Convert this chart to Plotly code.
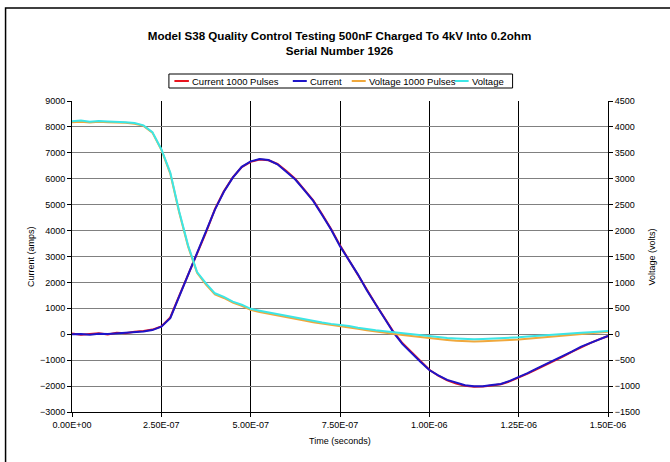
import plotly.graph_objects as go

# ---- data ----
time_s = [k * 2.5e-8 for k in range(61)]

current = [0, 10, -20, 20, 10, 30, 50, 80, 110, 160,
           290, 620, 1450, 2280, 3080, 3910, 4810, 5500, 6040, 6460,
           6670, 6760, 6720, 6560, 6280, 5970, 5560, 5145, 4600, 4040,
           3400, 2850, 2310, 1700, 1140, 600, 60, -380, -730, -1060,
           -1380, -1590, -1760, -1880, -1970, -2010, -2010, -1960, -1920, -1800,
           -1660, -1500, -1330, -1170, -1000, -830, -660, -480, -330, -190,
           -60]

current_1000 = [30, -20, 10, 40, -10, 60, 40, 100, 130, 180,
                300, 650, 1480, 2300, 3100, 3930, 4830, 5520, 6050, 6450,
                6650, 6740, 6710, 6570, 6300, 5990, 5580, 5170, 4630, 4060,
                3430, 2880, 2330, 1730, 1160, 620, 90, -350, -700, -1040,
                -1370, -1600, -1780, -1900, -1990, -2030, -2020, -1980, -1930, -1820,
                -1680, -1520, -1350, -1190, -1020, -850, -670, -500, -340, -200,
                -70]

voltage = [4110, 4125, 4100, 4115, 4105, 4100, 4090, 4075, 4030, 3900,
           3570, 3120, 2370, 1710, 1200, 980, 790, 720, 630, 570,
           490, 455, 420, 390, 350, 315, 285, 250, 225, 200,
           180, 160, 125, 96, 75, 60, 40, 20, 5, -15,
           -40, -55, -70, -80, -90, -95, -90, -85, -75, -70,
           -60, -45, -30, -20, -5, 5, 20, 30, 40, 50,
           65]

voltage_1000 = [4090, 4100, 4085, 4100, 4090, 4085, 4080, 4060, 4020, 3890,
                3560, 3100, 2350, 1690, 1185, 960, 770, 700, 610, 550,
                470, 430, 400, 365, 330, 295, 265, 230, 205, 180,
                160, 140, 105, 75, 50, 30, 10, -15, -35, -55,
                -80, -95, -110, -125, -135, -140, -135, -130, -120, -110,
                -100, -85, -70, -55, -40, -25, -10, 5, 20, 35,
                50]

series_names = ["Current 1000 Pulses", "Current", "Voltage 1000 Pulses", "Voltage"]
series_colors = ["#E8141E", "#1E14C8", "#F0A83C", "#3CE6E6"]

x_tickvals = [0, 2.5e-7, 5.0e-7, 7.5e-7, 1.0e-6, 1.25e-6, 1.5e-6]
x_ticktext = ["0.00E+00", "2.50E-07", "5.00E-07", "7.50E-07",
              "1.00E-06", "1.25E-06", "1.50E-06"]

FONT = "Arial, Liberation Sans, sans-serif"

# plot-area geometry in pixels
L, R, T, B = 71.5, 608.0, 101.0, 412.0
W, H = 670, 462


def px(xp):
    return (xp - L) / (R - L)


def py(yp):
    return (B - yp) / (B - T)


fig = go.Figure()
series = [current_1000, current, voltage_1000, voltage]
axes = ["y", "y", "y2", "y2"]
for name, color, vals, ax in zip(series_names, series_colors, series, axes):
    fig.add_trace(go.Scatter(x=time_s, y=vals, name=name, mode="lines",
                             line=dict(color=color, width=2), yaxis=ax,
                             showlegend=False))

# custom compact legend (Excel style)
shapes = []
annotations = []
leg_box = (168.5, 74.0, 512.5, 88.0)
shapes.append(dict(type="rect", xref="paper", yref="paper",
                   x0=px(leg_box[0]), x1=px(leg_box[2]),
                   y0=py(leg_box[3]), y1=py(leg_box[1]),
                   line=dict(color="black", width=1), fillcolor="white", layer="above"))
leg_items = [(174, 188.5), (292.5, 306.5), (351.5, 365.5), (454.5, 468.5)]
leg_y = 81.0
for (x0, x1), name, color in zip(leg_items, series_names, series_colors):
    shapes.append(dict(type="line", xref="paper", yref="paper",
                       x0=px(x0), x1=px(x1), y0=py(leg_y), y1=py(leg_y),
                       line=dict(color=color, width=2), layer="above"))
    annotations.append(dict(text=name, xref="paper", yref="paper",
                            x=px(x1 + 1.5), y=py(leg_y), xanchor="left", yanchor="middle",
                            showarrow=False, font=dict(family=FONT, size=9.5, color="black")))

# outer chart frame
shapes.append(dict(type="rect", xref="paper", yref="paper",
                   x0=px(5), x1=px(700), y0=py(480), y1=py(8),
                   line=dict(color="black", width=1.5), fillcolor="rgba(0,0,0,0)", layer="above"))

# axis titles
annotations += [
    dict(text="Current (amps)", xref="paper", yref="paper", x=px(30), y=py(256.5),
         xanchor="center", yanchor="middle",
         textangle=-90, showarrow=False, font=dict(family=FONT, size=9)),
    dict(text="Voltage (volts)", xref="paper", yref="paper", x=px(652), y=py(256.5),
         xanchor="center", yanchor="middle",
         textangle=-90, showarrow=False, font=dict(family=FONT, size=9)),
    dict(text="Time (seconds)", xref="paper", yref="paper", x=px(340), y=py(441),
         xanchor="center", yanchor="middle",
         showarrow=False, font=dict(family=FONT, size=9)),
]

fig.update_layout(
    width=W, height=H,
    margin=dict(l=L, r=W - R, t=T, b=H - B, autoexpand=False),
    paper_bgcolor="white", plot_bgcolor="white",
    font=dict(family=FONT, size=9, color="black"),
    title=dict(text="<b>Model S38 Quality Control Testing 500nF Charged To 4kV Into 0.2ohm<br>Serial Number 1926</b>",
               x=(339.5) / W, xanchor="center", y=1 - 40 / H, yanchor="top", yref="container",
               font=dict(family=FONT, size=11.6, color="black")),
    showlegend=False,
    xaxis=dict(range=[0, 1.5e-6], tickvals=x_tickvals, ticktext=x_ticktext,
               showgrid=True, gridcolor="black", gridwidth=1,
               showline=True, linecolor="black", linewidth=1,
               ticks="outside", ticklen=4, tickcolor="black", zeroline=False,
               automargin=False, tickfont=dict(size=9)),
    yaxis=dict(range=[-3000, 9000], dtick=1000, tick0=0,
               showgrid=True, gridcolor="#808080", gridwidth=1,
               showline=True, linecolor="black", linewidth=1,
               ticks="outside", ticklen=4, tickcolor="black", zeroline=False,
               automargin=False, tickfont=dict(size=9)),
    yaxis2=dict(range=[-1500, 4500], dtick=500, tick0=0, overlaying="y", side="right",
                showgrid=False, showline=True, linecolor="black", linewidth=1,
                ticks="outside", ticklen=4, tickcolor="black", zeroline=False,
                automargin=False, tickfont=dict(size=9)),
    shapes=shapes,
    annotations=annotations,
)

fig.write_html("out.html", config={"displayModeBar": False},
               post_script="document.body.style.margin='0';")
